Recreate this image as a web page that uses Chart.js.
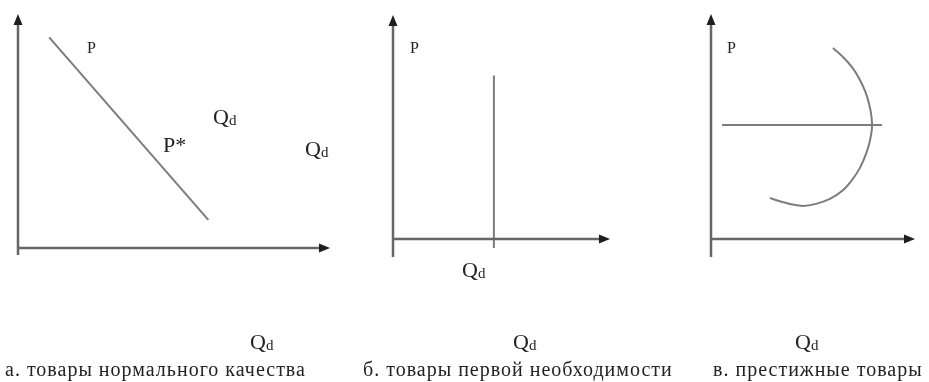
<!DOCTYPE html>
<html>
<head>
<meta charset="utf-8">
<script src="https://cdn.jsdelivr.net/npm/chart.js@4/dist/chart.umd.min.js"></script>
<style>
  html, body { margin: 0; padding: 0; background: #fff; }
  #wrap { position: relative; width: 929px; height: 382px; overflow: hidden; background: #fff; }
  #wrap canvas { position: absolute; left: 0; top: 0; }
  .t { position: absolute; font-family: "Liberation Serif", "Times New Roman", serif; color: #222; line-height: 1; white-space: nowrap; }
  .q { font-size: 22px; }
  .q sub { font-size: 15px; vertical-align: 0; position: relative; top: 1px; }
  .p { font-size: 16px; }
  .ps { font-size: 22px; }
  .cap { font-size: 20px; letter-spacing: 1px; }
</style>
</head>
<body>
<div id="wrap">
  <canvas id="cA" width="929" height="382"></canvas>
  <canvas id="cB" width="929" height="382"></canvas>
  <canvas id="cC" width="929" height="382"></canvas>
</div>
<script>
// ---- data ----
const captions = ['а. товары нормального качества', 'б. товары первой необходимости', 'в. престижные товары'];
const priceLabel = 'P';
const priceStarLabel = 'P*';
const qtyMain = 'Q';
const qtySub = 'd';

// panel а: normal goods demand line
const demandA_x = [1.0, 6.1];
const demandA_y = [9.0, 1.2];
// panel б: necessities (vertical demand)
const demandB_x = [4.65, 4.65];
const demandB_y = [7.3, -0.4];
// panel в: prestige goods
const priceC_x = [0.54, 8.38];
const priceC_y = [5.07, 5.07];
const curveC_x = [5.98, 6.47, 6.91, 7.25, 7.55, 7.75, 7.87, 7.89, 7.79, 7.60, 7.30, 6.91, 6.42, 5.83, 5.15, 4.51, 3.87, 3.33, 2.89];
const curveC_y = [8.49, 8.09, 7.64, 7.16, 6.58, 6.00, 5.42, 4.93, 4.36, 3.78, 3.16, 2.62, 2.13, 1.78, 1.56, 1.47, 1.56, 1.69, 1.82];

const pts = (xs, ys) => xs.map((x, i) => ({ x, y: ys[i] }));

// ---- axes with arrows plugin ----
const axesArrows = {
  id: 'axesArrows',
  afterDraw(chart, args, opts) {
    const { ctx, chartArea: a } = chart;
    ctx.save();
    ctx.strokeStyle = '#666';
    ctx.lineWidth = 2.5;
    ctx.beginPath();
    ctx.moveTo(a.left, a.bottom + opts.below);
    ctx.lineTo(a.left, a.top + 8);
    ctx.moveTo(a.left, a.bottom);
    ctx.lineTo(a.right - 8, a.bottom);
    ctx.stroke();
    ctx.fillStyle = '#1e1e1e';
    ctx.beginPath();
    ctx.moveTo(a.left, a.top);
    ctx.lineTo(a.left - 4.5, a.top + 11);
    ctx.lineTo(a.left + 4.5, a.top + 11);
    ctx.closePath();
    ctx.fill();
    ctx.beginPath();
    ctx.moveTo(a.right, a.bottom);
    ctx.lineTo(a.right - 11, a.bottom - 4.5);
    ctx.lineTo(a.right - 11, a.bottom + 4.5);
    ctx.closePath();
    ctx.fill();
    ctx.restore();
  }
};

function makeChart(id, area, below, datasets) {
  return new Chart(document.getElementById(id), {
    type: 'scatter',
    data: { datasets },
    options: {
      responsive: false,
      animation: false,
      events: [],
      layout: { padding: { left: area.l, top: area.t, right: 929 - area.r, bottom: 382 - area.b } },
      plugins: { legend: { display: false }, tooltip: { enabled: false }, axesArrows: { below } },
      scales: {
        x: { type: 'linear', min: 0, max: 10, display: false },
        y: { type: 'linear', min: 0, max: 10, display: false }
      },
      elements: { point: { radius: 0 } }
    },
    plugins: [axesArrows]
  });
}

const lineStyle = { showLine: true, borderColor: '#7c7c7c', borderWidth: 2, pointRadius: 0, clip: false, fill: false };

makeChart('cA', { l: 18, t: 14, r: 330, b: 248 }, 7, [
  Object.assign({ data: pts(demandA_x, demandA_y), tension: 0 }, lineStyle)
]);
makeChart('cB', { l: 393, t: 15, r: 610, b: 239 }, 18, [
  Object.assign({ data: pts(demandB_x, demandB_y), tension: 0 }, lineStyle)
]);
makeChart('cC', { l: 711, t: 14, r: 915, b: 239 }, 18, [
  Object.assign({ data: pts(priceC_x, priceC_y), tension: 0 }, lineStyle),
  Object.assign({ data: pts(curveC_x, curveC_y), tension: 0.3 }, lineStyle)
]);

// ---- text labels ----
const wrap = document.getElementById('wrap');
function addText(cls, html, left, top) {
  const d = document.createElement('div');
  d.className = 't ' + cls;
  d.innerHTML = html;
  d.style.left = left + 'px';
  d.style.top = top + 'px';
  wrap.appendChild(d);
  return d;
}
const qHtml = qtyMain + '<sub>' + qtySub + '</sub>';
addText('p', priceLabel, 87, 40);
addText('p', priceLabel, 410, 40);
addText('p', priceLabel, 727, 40);
addText('ps', priceStarLabel, 163, 134);
addText('q', qHtml, 213, 106);
addText('q', qHtml, 305, 138);
addText('q', qHtml, 462, 259);
addText('q', qHtml, 250, 331);
addText('q', qHtml, 513, 331);
addText('q', qHtml, 795, 331);
addText('cap', captions[0], 5, 359);
addText('cap', captions[1], 363, 359);
addText('cap', captions[2], 713, 359);
</script>
</body>
</html>
